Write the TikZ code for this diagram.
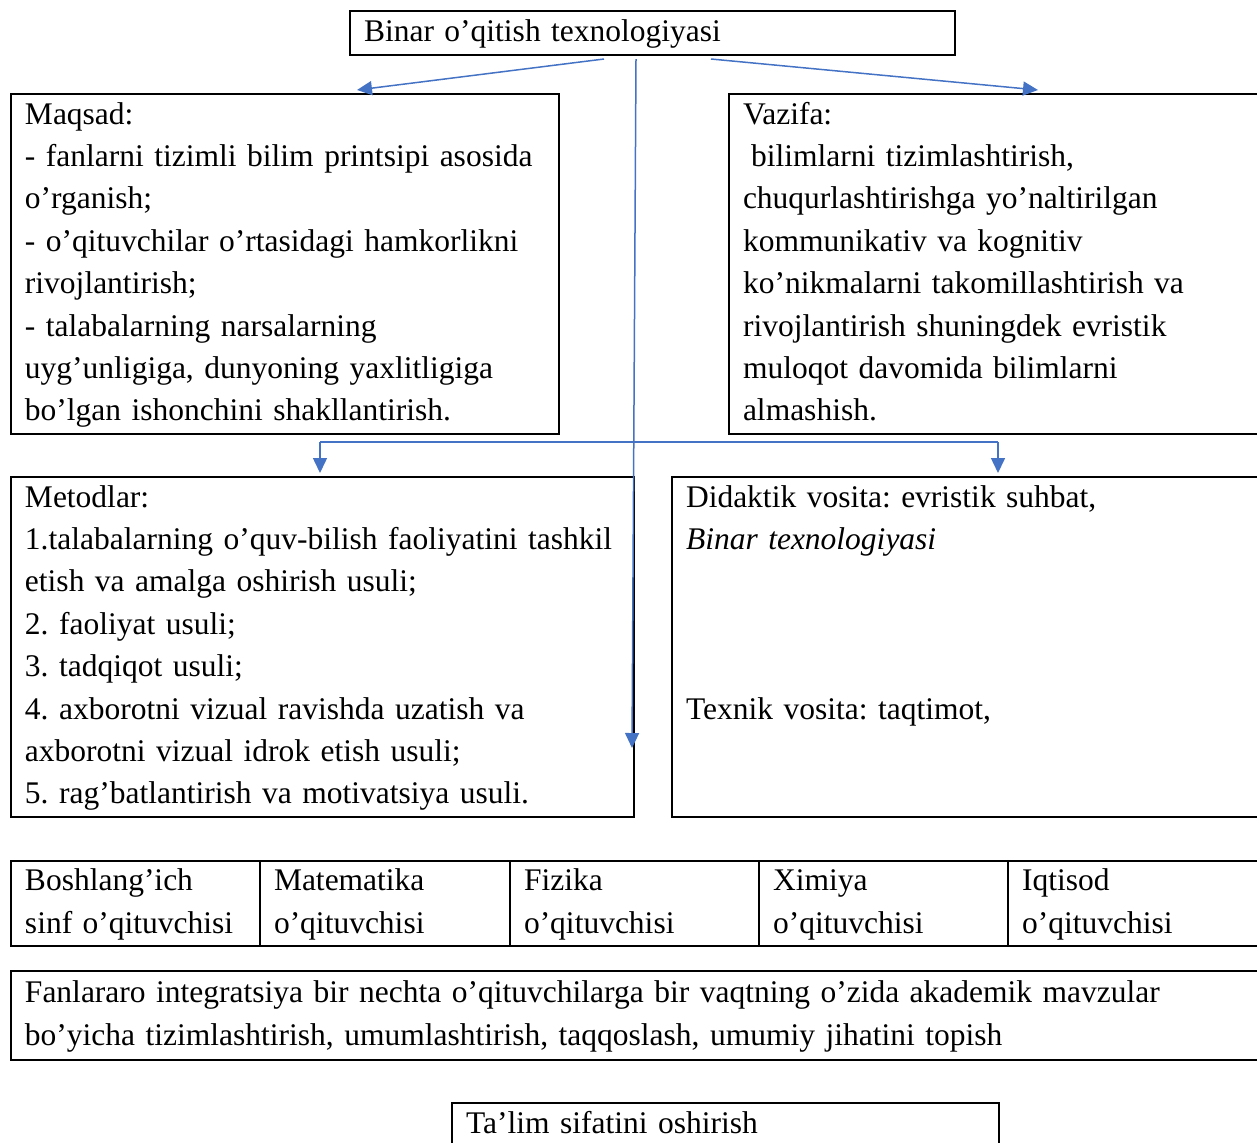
\documentclass[tikz,border=0pt]{standalone}
\usepackage{fontspec}
\setmainfont{Liberation Serif}
\usepackage{tikz}
\usetikzlibrary{arrows.meta,positioning,calc}
\definecolor{cLink}{RGB}{68,114,196}
\newcommand\boxfont{\fontsize{15.75pt}{21.2pt}\selectfont\frenchspacing}

\begin{document}
\begin{tikzpicture}[
  x=0.5pt,y=-0.5pt,
  box/.style={draw,line width=1pt,anchor=north west,inner xsep=7pt,inner ysep=0pt,
              align=left,font=\boxfont,
              execute at begin node=\strut,execute at end node=\strut},
  link/.style={cLink,line width=0.75pt},
  arr/.style={link,-{Triangle[width=7pt,length=7.5pt]}},
]
\useasboundingbox (0,0) rectangle (1257,1142);
\clip (0,0) rectangle (1257,1142);
% title
\node[box,minimum width=302.5pt,minimum height=22pt,text width=288.5pt] (binar) at (349,10)
  {Binar o’qitish texnologiyasi};
% aim and task
\node[box,minimum width=274pt,minimum height=170pt,text width=260pt] (maqsad) at (10,93)
  {Maqsad:\\
   - fanlarni tizimli bilim printsipi asosida\\
   o’rganish;\\
   - o’qituvchilar o’rtasidagi hamkorlikni\\
   rivojlantirish;\\
   - talabalarning narsalarning\\
   uyg’unligiga, dunyoning yaxlitligiga\\
   bo’lgan ishonchini shakllantirish.};
\node[box,minimum width=264.5pt,minimum height=170pt,text width=250.5pt] (vazifa) at (728,93)
  {Vazifa:\\
   \hspace*{4pt}bilimlarni tizimlashtirish,\\
   chuqurlashtirishga yo’naltirilgan\\
   kommunikativ va kognitiv\\
   ko’nikmalarni takomillashtirish va\\
   rivojlantirish shuningdek evristik\\
   muloqot davomida bilimlarni\\
   almashish.};
% methods and tools
\node[box,minimum width=311.5pt,minimum height=170pt,text width=297.5pt] (metod) at (10,476)
  {Metodlar:\\
   1.talabalarning o’quv-bilish faoliyatini tashkil\\
   etish va amalga oshirish usuli;\\
   2. faoliyat usuli;\\
   3. tadqiqot usuli;\\
   4. axborotni vizual ravishda uzatish va\\
   axborotni vizual idrok etish usuli;\\
   5. rag’batlantirish va motivatsiya usuli.};
\node[box,minimum width=293pt,minimum height=170pt,text width=279pt] (didak) at (671,476)
  {Didaktik vosita: evristik suhbat,\\
   \textit{Binar texnologiyasi}\\
   ~\\ ~\\ ~\\
   Texnik vosita: taqtimot,\\
   ~\\ ~};
% teachers row
\node[box,minimum width=124.5pt,minimum height=42.5pt,text width=110.5pt] (c1) at (10,860)
  {Boshlang’ich\\ sinf o’qituvchisi};
\node[box,minimum width=125pt,minimum height=42.5pt,text width=111pt] (c2) at (259,860)
  {Matematika\\ o’qituvchisi};
\node[box,minimum width=124.5pt,minimum height=42.5pt,text width=110.5pt] (c3) at (509,860)
  {Fizika\\ o’qituvchisi};
\node[box,minimum width=124.5pt,minimum height=42.5pt,text width=110.5pt] (c4) at (758,860)
  {Ximiya\\ o’qituvchisi};
\node[box,minimum width=125pt,minimum height=42.5pt,text width=111pt] (c5) at (1007,860)
  {Iqtisod\\ o’qituvchisi};
% integration and result
\node[box,minimum width=623.5pt,minimum height=44.5pt,text width=609.5pt] (fanlar) at (10,970)
  {Fanlararo integratsiya bir nechta o’qituvchilarga bir vaqtning o’zida akademik mavzular\\
   bo’yicha tizimlashtirish, umumlashtirish, taqqoslash, umumiy jihatini topish};
\node[box,minimum width=273.5pt,minimum height=22pt,text width=259.5pt] (talim) at (451,1102)
  {Ta’lim sifatini oshirish};
% connectors
\draw[arr] ($(binar.south west)+(255,3)$) -- ($(maqsad.north west)+(347,-3)$);
\draw[arr] ($(binar.south west)+(362,3)$) -- ($(vazifa.north west)+(310,-3)$);
\draw[arr] ($(binar.south west)+(287,3)$) -- ($(metod.north east)+(-3,272)$);
\coordinate (hl) at ($(metod.north west)+(310,-34)$);
\coordinate (hr) at ($(didak.north west)+(327,-34)$);
\draw[link] (hl) -- (hr);
\draw[arr,shorten >=1.5pt] (hl) -- (hl |- metod.north);
\draw[arr,shorten >=1.5pt] (hr) -- (hr |- didak.north);
\end{tikzpicture}
\end{document}
